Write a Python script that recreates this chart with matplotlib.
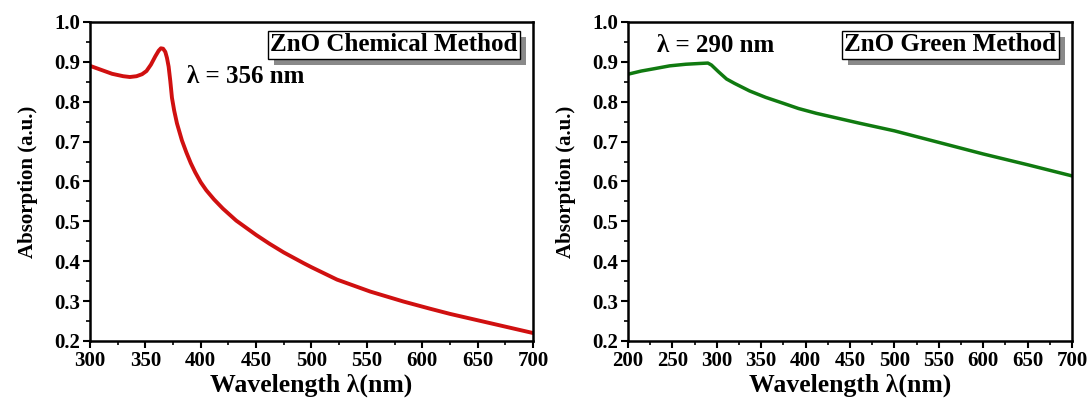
import numpy as np
import matplotlib
matplotlib.use("Agg")
import matplotlib.pyplot as plt
from matplotlib.ticker import MultipleLocator
from matplotlib.patches import Rectangle
from matplotlib.transforms import IdentityTransform

# Chemical method (red)
chem_wl = [300, 310, 320, 330, 336, 342, 347, 351, 355, 359, 362, 364, 366, 368, 369.5,
           371, 372.5, 374, 376, 378.5, 383, 387, 391, 395, 400, 405, 412, 420, 432, 450,
           462, 475, 493, 500, 523, 553, 583, 607, 625, 650, 675, 700]
chem_abs = [0.890, 0.880, 0.870, 0.864, 0.862, 0.864, 0.869, 0.877, 0.893, 0.914, 0.928,
            0.934, 0.933, 0.925, 0.910, 0.888, 0.852, 0.810, 0.778, 0.746, 0.703, 0.673,
            0.646, 0.623, 0.598, 0.578, 0.555, 0.532, 0.502, 0.466, 0.444, 0.422, 0.395,
            0.385, 0.354, 0.324, 0.299, 0.281, 0.268, 0.252, 0.236, 0.220]

# Green method (green)
green_wl = [200, 215, 230, 247, 265, 281, 290, 294, 302, 311, 320, 337, 355, 375, 392,
            412, 461, 500, 550, 600, 650, 700]
green_abs = [0.869, 0.877, 0.883, 0.890, 0.894, 0.896, 0.897, 0.892, 0.875, 0.857, 0.846,
             0.827, 0.811, 0.796, 0.783, 0.771, 0.746, 0.727, 0.698, 0.669, 0.642, 0.614]

yticks = [0.2, 0.3, 0.4, 0.5, 0.6, 0.7, 0.8, 0.9, 1.0]

plt.rcParams['font.family'] = ['Liberation Serif', 'DejaVu Serif']
plt.rcParams['font.weight'] = 'bold'

fig = plt.figure(figsize=(10.91, 3.99), dpi=100)
ax1 = fig.add_axes([0.0825, 0.1454, 0.406, 0.7995])
ax2 = fig.add_axes([0.5756, 0.1454, 0.407, 0.7995])

def style(ax, xlim, xmajor):
    ax.set_xlim(*xlim)
    ax.set_ylim(0.2, 1.0)
    ax.set_yticks(yticks)
    ax.xaxis.set_major_locator(MultipleLocator(xmajor))
    ax.xaxis.set_minor_locator(MultipleLocator(xmajor / 2))
    ax.yaxis.set_minor_locator(MultipleLocator(0.05))
    for s in ax.spines.values():
        s.set_linewidth(1.8)
    ax.tick_params(which='major', direction='out', length=5, width=1.5,
                   labelsize=15, top=False, right=False, pad=2)
    ax.tick_params(which='minor', direction='out', length=3, width=1.2,
                   top=False, right=False)
    for lab in ax.get_xticklabels() + ax.get_yticklabels():
        lab.set_fontweight('bold')
    ax.set_xlabel('Wavelength λ(nm)', fontsize=18.5, fontweight='bold', labelpad=2)
    ax.set_ylabel('Absorption (a.u.)', fontsize=15, fontweight='bold', labelpad=12)

boxes = []
def boxed(ax, x, y, txt):
    t = ax.annotate(txt, (x, y), xycoords='axes fraction', ha='right', va='top',
                    fontsize=18, fontweight='bold', color='black', zorder=6,
                    bbox=dict(boxstyle='square,pad=0.1', fc='white', ec='black', lw=1))
    boxes.append((ax, t))

ax1.plot(chem_wl, chem_abs, color='#d01010', lw=2.8)
style(ax1, (300, 700), 50)
boxed(ax1, 0.965, 0.965, 'ZnO Chemical Method')
ax1.text(0.218, 0.83, 'λ = 356 nm', transform=ax1.transAxes, fontsize=18,
         fontweight='bold', va='center', ha='left')

ax2.plot(green_wl, green_abs, color='#107a10', lw=2.5)
style(ax2, (200, 700), 50)
boxed(ax2, 0.965, 0.965, 'ZnO Green Method')
ax2.text(0.065, 0.925, 'λ = 290 nm', transform=ax2.transAxes, fontsize=18,
         fontweight='bold', va='center', ha='left')

fig.canvas.draw()
for ax, t in boxes:
    bb = t.get_bbox_patch().get_window_extent()
    r = Rectangle((bb.x0 + 6, bb.y0 - 6), bb.width, bb.height, transform=IdentityTransform(),
                  fc='#8a8a8a', ec='none', zorder=5, clip_on=False)
    ax.add_patch(r)

fig.savefig('out.png', dpi=100)
